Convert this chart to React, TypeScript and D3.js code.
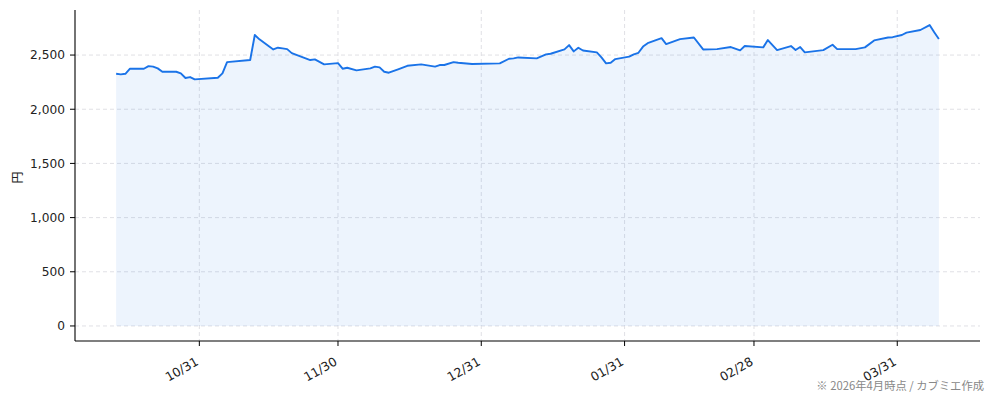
import React from 'react';
import * as d3 from 'd3';

// daily close (円)
const dates = [
  '2025-10-13', '2025-10-14', '2025-10-15', '2025-10-16', '2025-10-19', '2025-10-20', '2025-10-21',
  '2025-10-22', '2025-10-23', '2025-10-26', '2025-10-27', '2025-10-28', '2025-10-29', '2025-10-30',
  '2025-11-04', '2025-11-05', '2025-11-06', '2025-11-11', '2025-11-12', '2025-11-13', '2025-11-16',
  '2025-11-17', '2025-11-18', '2025-11-19', '2025-11-20', '2025-11-24', '2025-11-25', '2025-11-27',
  '2025-11-30', '2025-12-01', '2025-12-02', '2025-12-04', '2025-12-07', '2025-12-08', '2025-12-09',
  '2025-12-10', '2025-12-11', '2025-12-13', '2025-12-15', '2025-12-18', '2025-12-21', '2025-12-22',
  '2025-12-23', '2025-12-25', '2025-12-26', '2025-12-29', '2026-01-04', '2026-01-06', '2026-01-07',
  '2026-01-08', '2026-01-12', '2026-01-14', '2026-01-15', '2026-01-18', '2026-01-19', '2026-01-20',
  '2026-01-21', '2026-01-22', '2026-01-25', '2026-01-26', '2026-01-27', '2026-01-28', '2026-01-29',
  '2026-02-01', '2026-02-02', '2026-02-03', '2026-02-04', '2026-02-05', '2026-02-08', '2026-02-09',
  '2026-02-12', '2026-02-15', '2026-02-17', '2026-02-20', '2026-02-23', '2026-02-25', '2026-02-26',
  '2026-03-02', '2026-03-03', '2026-03-05', '2026-03-08', '2026-03-09', '2026-03-10', '2026-03-11',
  '2026-03-15', '2026-03-17', '2026-03-18', '2026-03-22', '2026-03-24', '2026-03-26', '2026-03-29',
  '2026-03-30', '2026-04-01', '2026-04-02', '2026-04-05', '2026-04-07', '2026-04-08', '2026-04-09',
];
const prices = [
  2327, 2322, 2327, 2374, 2374, 2398, 2393,
  2377, 2346, 2346, 2331, 2288, 2297, 2276,
  2291, 2331, 2435, 2454, 2685, 2645, 2552,
  2568, 2562, 2555, 2518, 2454, 2460, 2414,
  2426, 2374, 2383, 2359, 2377, 2393, 2386,
  2346, 2337, 2368, 2401, 2414, 2393, 2408,
  2408, 2435, 2429, 2417, 2423, 2466, 2469,
  2478, 2469, 2506, 2512, 2552, 2592, 2534,
  2568, 2542, 2525, 2478, 2423, 2429, 2463,
  2485, 2506, 2521, 2578, 2610, 2656, 2601,
  2647, 2662, 2552, 2555, 2574, 2543, 2583,
  2571, 2638, 2546, 2583, 2546, 2574, 2525,
  2546, 2595, 2555, 2555, 2571, 2635, 2662,
  2665, 2685, 2707, 2731, 2777, 2710, 2648,
];
const yTicks = [0, 500, 1000, 1500, 2000, 2500];
const xTickDates = ['2025-10-31', '2025-11-30', '2025-12-31', '2026-01-31', '2026-02-28', '2026-03-31'];
const yLabel = '円';
const note = '※ 2026年4月時点 / カブミエ作成';

const W = 994;
const H = 401;
const margin = { top: 10, right: 14, bottom: 60, left: 75 };
const lineColor = '#1a73e8';
const font = "'DejaVu Sans', 'Noto Sans CJK JP', sans-serif";

const parse = d3.timeParse('%Y-%m-%d');

const App: React.FC = () => {
  const data = dates.map((d, i) => ({ date: parse(d) as Date, value: prices[i] }));
  const x0 = data[0].date.getTime();
  const x1 = data[data.length - 1].date.getTime();
  const xPad = (x1 - x0) * 0.05;
  const yMax = d3.max(prices) as number;

  const left = margin.left;
  const right = W - margin.right;
  const top = margin.top;
  const bottom = H - margin.bottom;

  const x = d3.scaleTime()
    .domain([new Date(x0 - xPad), new Date(x1 + xPad)])
    .range([left, right]);
  const y = d3.scaleLinear()
    .domain([-yMax * 0.05, yMax * 1.05])
    .range([bottom, top]);

  const area = d3.area<{ date: Date; value: number }>()
    .x(d => x(d.date))
    .y0(() => y(0))
    .y1(d => y(d.value));
  const line = d3.line<{ date: Date; value: number }>()
    .x(d => x(d.date))
    .y(d => y(d.value));

  const fmtY = d3.format(',');
  const fmtX = d3.timeFormat('%m/%d');

  return (
    <svg width={W} height={H} style={{ position: 'absolute', left: 0, top: 0, background: '#fff' }}
      fontFamily={font}>
      {/* grid */}
      {yTicks.map(t => (
        <line key={'gy' + t} x1={left} x2={right} y1={y(t)} y2={y(t)}
          stroke="#dcdde2" strokeWidth={0.9} strokeDasharray="4,3" />
      ))}
      {xTickDates.map(s => {
        const px = x(parse(s) as Date);
        return (
          <line key={'gx' + s} x1={px} x2={px} y1={top} y2={bottom}
            stroke="#dcdde2" strokeWidth={0.9} strokeDasharray="4,3" />
        );
      })}

      <path d={area(data) || ''} fill={lineColor} fillOpacity={0.08} />
      <path d={line(data) || ''} fill="none" stroke={lineColor} strokeWidth={1.9} strokeLinejoin="round" />

      {/* spines */}
      <line x1={left} x2={left} y1={top} y2={bottom} stroke="#000" strokeWidth={1.1} />
      <line x1={left} x2={right} y1={bottom} y2={bottom} stroke="#000" strokeWidth={1.1} />

      {/* y axis */}
      {yTicks.map(t => (
        <g key={'ty' + t} transform={`translate(${left},${y(t)})`}>
          <line x1={-5} x2={0} stroke="#000" strokeWidth={1} />
          <text x={-10} dy="0.36em" textAnchor="end" fontSize={12.2} fill="#222">{fmtY(t)}</text>
        </g>
      ))}
      <text transform={`translate(22,${(top + bottom) / 2 + 2}) rotate(-90)`} textAnchor="middle"
        fontSize={12} fill="#222">{yLabel}</text>

      {/* x axis */}
      {xTickDates.map(s => {
        const px = x(parse(s) as Date);
        return (
          <g key={'tx' + s} transform={`translate(${px},${bottom})`}>
            <line y1={0} y2={5} stroke="#000" strokeWidth={1} />
            <text transform="translate(0,23) rotate(-30)" textAnchor="end" fontSize={12.4} fill="#222">
              {fmtX(parse(s) as Date)}
            </text>
          </g>
        );
      })}

      <text x={W - 10} y={390} textAnchor="end" fontSize={11.3} fill="#888"
        fontFamily="'Noto Sans CJK JP', sans-serif">{note}</text>
    </svg>
  );
};

export default App;
